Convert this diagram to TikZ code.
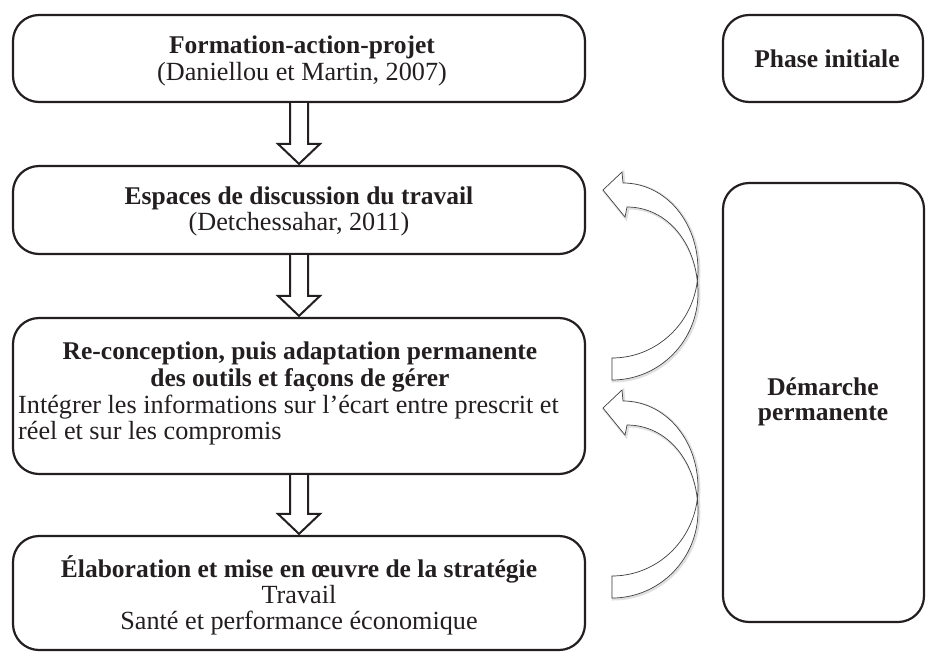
\documentclass[tikz,border=0pt]{standalone}
\usepackage{fontspec}
\setmainfont{Liberation Serif}
\usetikzlibrary{calc}
\definecolor{ink}{HTML}{231F20}
\begin{document}
\begin{tikzpicture}[x=1pt,y=-1pt,
  box/.style={draw=ink, line width=2.2pt, rounded corners=26pt, rectangle, inner sep=0pt, fill=white},
  txt/.style={inner sep=0pt, anchor=base, text=ink, font=\fontsize{26.2}{27}\selectfont},
  btxt/.style={txt, font=\fontsize{25.5}{27}\selectfont\bfseries},
  ltxt/.style={txt, anchor=base west},
  downarrow/.style={draw=ink, line width=2pt, fill=white, line join=miter},
  curvearrow/.style={draw=black!75, line width=0.7pt, fill=white, line join=miter},
  curveshadow/.style={draw=black!12, line width=3pt, line join=miter},
  curvedarr/.pic={
    \draw[curveshadow, shift={(1,1)}] (0,0) .. controls (47.5,0) and (86,-39.4) .. (86,-88)
      .. controls (86,-136.6) and (53,-175) .. (11,-175)
      -- (10,-186) -- (-9,-168) -- (13,-141) -- (15,-151)
      .. controls (56,-151) and (86,-113) .. (86,-65)
      .. controls (86,-17) and (47.5,22) .. (0,22) -- cycle;
    \draw[curvearrow] (0,0) .. controls (47.5,0) and (86,-39.4) .. (86,-88)
      .. controls (86,-136.6) and (53,-175) .. (11,-175)
      -- (10,-186) -- (-9,-168) -- (13,-141) -- (15,-151)
      .. controls (56,-151) and (86,-113) .. (86,-65)
      .. controls (86,-17) and (47.5,22) .. (0,22) -- cycle;
  }
]
\useasboundingbox[fill=white] (0,0) rectangle (926,656);

% boxes
\node[box, minimum width=572pt, minimum height=87pt] (b1) at (299,58.5) {};
\node[box, minimum width=572pt, minimum height=88pt] (b2) at (299,210) {};
\node[box, minimum width=572pt, minimum height=156pt] (b3) at (299,396) {};
\node[box, minimum width=572pt, minimum height=114pt] (b4) at (299,593) {};
\node[box, minimum width=200pt, minimum height=87pt] (p1) at (823,58.5) {};
\node[box, minimum width=201pt, minimum height=439pt] (p2) at (823.5,402.5) {};

% texts
\node[btxt] (t1a) at (302,53) {Formation-action-projet};
\node[txt]  (t1b) at (302,80) {(Daniellou et Martin, 2007)};
\node[btxt] (tp1) at (827,67) {Phase initiale};
\node[btxt] (t2a) at (299,204) {Espaces de discussion du travail};
\node[txt]  (t2b) at (299,230) {(Detchessahar, 2011)};
\node[btxt] (t3a) at (300,359) {Re-conception, puis adaptation permanente};
\node[btxt] (t3b) at (300,386) {des outils et façons de gérer};
\node[ltxt] (t3c) at (18,413) {Intégrer les informations sur l’écart entre prescrit et};
\node[ltxt] (t3d) at (18,439) {réel et sur les compromis};
\node[btxt] (t4a) at (299,577) {Élaboration et mise en œuvre de la stratégie};
\node[txt]  (t4b) at (299,603) {Travail};
\node[txt]  (t4c) at (299,629) {Santé et performance économique};
\node[btxt] (tp2a) at (823,395) {Démarche};
\node[btxt] (tp2b) at (823,420) {permanente};

% down arrows
\foreach \u/\v in {b1/b2, b2/b3, b3/b4}{
  \draw[downarrow] ($(\u.south)+(-9,0)$) -- ($(\v.north)+(-9,-21)$) -- ($(\v.north)+(-21,-21)$)
    -- ($(\v.north)+(0,-1)$) -- ($(\v.north)+(21,-21)$) -- ($(\v.north)+(9,-21)$) -- ($(\u.south)+(9,0)$);
}

% curved arrows
\pic at (612,358) {curvedarr};
\pic at (612,576) {curvedarr};
\end{tikzpicture}
\end{document}
